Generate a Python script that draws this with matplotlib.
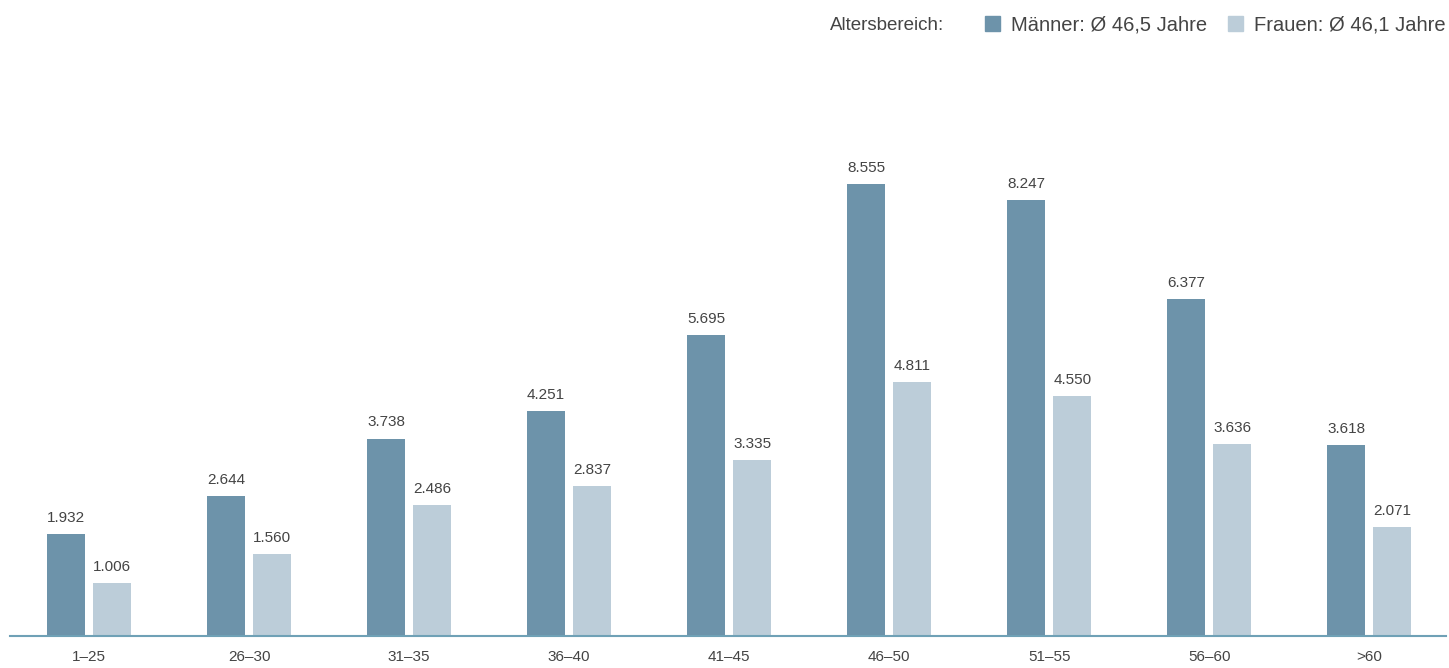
import matplotlib
matplotlib.use("Agg")
import matplotlib.pyplot as plt
import numpy as np
from matplotlib.patches import Patch

# Altersgruppen und Anzahl Beschäftigte (in Tausend)
age_groups = ["1\u201325", "26\u201330", "31\u201335", "36\u201340", "41\u201345",
              "46\u201350", "51\u201355", "56\u201360", ">60"]
men = [1.932, 2.644, 3.738, 4.251, 5.695, 8.555, 8.247, 6.377, 3.618]
women = [1.006, 1.560, 2.486, 2.837, 3.335, 4.811, 4.550, 3.636, 2.071]

legend_title = "Altersbereich:"
men_label = "Männer: Ø 46,5 Jahre"
women_label = "Frauen: Ø 46,1 Jahre"

DARK = "#6d93aa"
LIGHT = "#bccdd9"
TEXT = "#444444"

plt.rcParams["font.family"] = ["Liberation Sans", "DejaVu Sans"]

W, H = 1449, 668
fig = plt.figure(figsize=(W / 100, H / 100), dpi=100)
# axes placed in pixel terms: baseline at y=636, line spans x=10..1446
ax = fig.add_axes([10 / W, (H - 636) / H, 1436 / W, 528.3 / H])

x = np.arange(len(age_groups))
bw = 0.2375
off = 0.144
ax.bar(x - off, men, bw, color=DARK, zorder=2)
ax.bar(x + off, women, bw, color=LIGHT, zorder=2)

for xi, m, w in zip(x, men, women):
    ax.annotate(f"{m:.3f}", (xi - off, m), xytext=(0, 6.5), textcoords="offset points",
                ha="center", va="bottom", fontsize=11, color=TEXT)
    ax.annotate(f"{w:.3f}", (xi + off, w), xytext=(0, 6.5), textcoords="offset points",
                ha="center", va="bottom", fontsize=11, color=TEXT)

ax.set_xlim(-0.494, 8.48)
ax.set_ylim(0, 10)
ax.set_xticks(x)
ax.set_xticklabels(age_groups, fontsize=11, color=TEXT)
ax.tick_params(axis="x", length=0, pad=10)
ax.set_yticks([])
for s in ["top", "right", "left"]:
    ax.spines[s].set_visible(False)
ax.spines["bottom"].set_color("#6fa1b6")
ax.spines["bottom"].set_linewidth(1.5)
ax.spines["bottom"].set_zorder(3)

handles = [Patch(color=DARK, label=men_label), Patch(color=LIGHT, label=women_label)]
fig.legend(handles=handles, loc="center right", bbox_to_anchor=(1446 / W, 1 - 25 / H),
           ncol=2, frameon=False, fontsize=14.5, handlelength=0.75, handleheight=0.75,
           handletextpad=0.55, columnspacing=1.05, labelcolor=TEXT,
           borderpad=0, borderaxespad=0)
fig.text(830 / W, 1 - 25 / H, legend_title, fontsize=13.5, color=TEXT,
         ha="left", va="center")

fig.savefig("out.png", dpi=100)
